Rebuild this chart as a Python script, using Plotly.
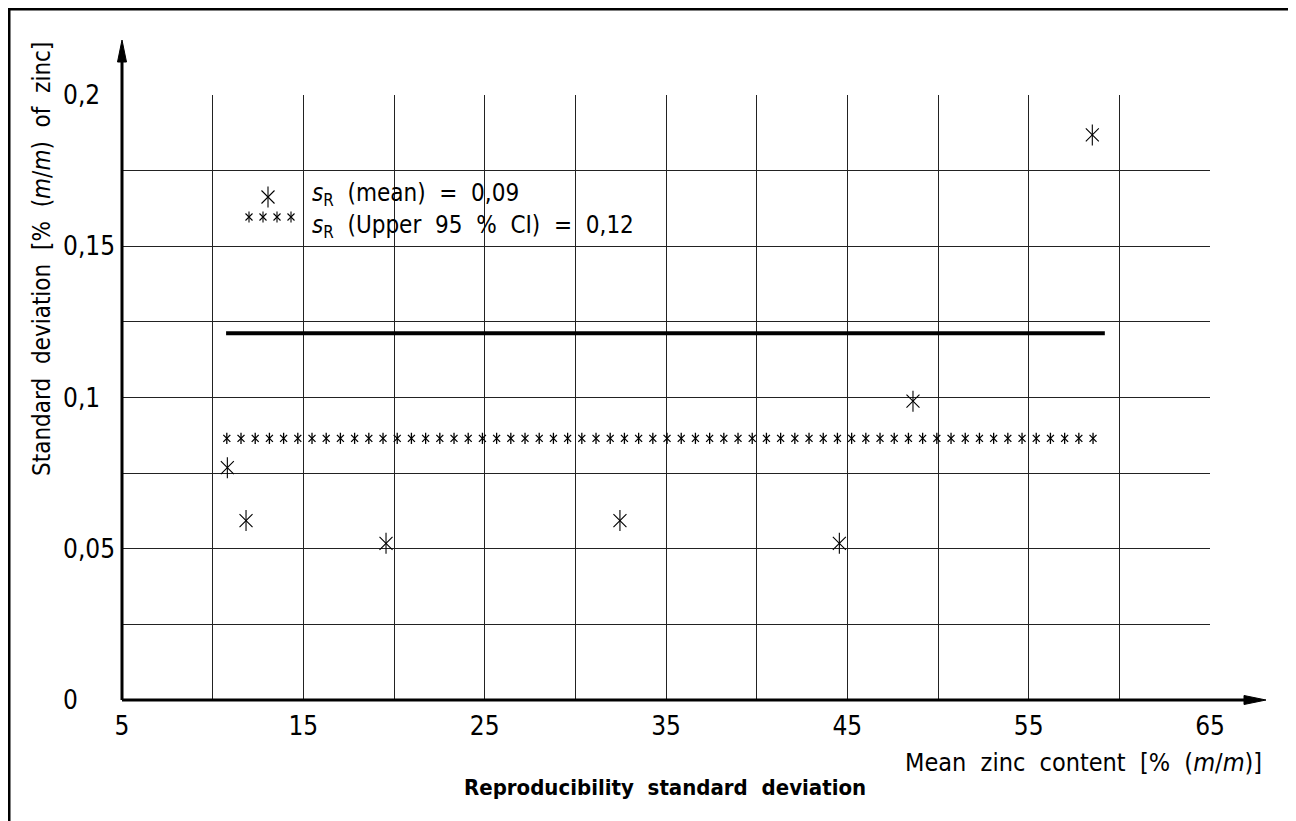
import plotly.graph_objects as go

# ---- data ----
point_x = [10.81, 11.84, 19.56, 32.46, 44.56, 48.62, 58.51]
point_y = [0.0768, 0.0593, 0.0518, 0.0593, 0.0518, 0.0988, 0.1868]

mean_value = 0.0865          # asterisk line
mean_x_start, mean_x_end = 10.78, 58.55
mean_marks = 62              # number of asterisks drawn along the line
upper_value = 0.1212         # solid line
upper_x = [10.74, 59.2]

x_tick_vals = [5, 15, 25, 35, 45, 55, 65]
x_tick_text = ["5", "15", "25", "35", "45", "55", "65"]
y_tick_vals = [0, 0.05, 0.1, 0.15, 0.2]
y_tick_text = ["0", "0,05", "0,1", "0,15", "0,2"]

legend_mean = "<i>s</i><sub>R</sub>  (mean)  =  0,09"
legend_upper = "<i>s</i><sub>R</sub>  (Upper  95  %  CI)  =  0,12"
x_title = "Mean  zinc  content  [%  (<i>m</i>/<i>m</i>)]"
y_title = "Standard  deviation  [%  (<i>m</i>/<i>m</i>)  of  zinc]"
bottom_title = "<b>Reproducibility  standard  deviation</b>"

# ---- layout constants (page has an 8 px body margin) ----
OFF = 8
W, H = 1296, 821
PL, PT, PR, PB = 122, 95, 1210, 700          # plot area in page pixels
L, T = PL - OFF, PT - OFF
R, B = W - (PR - OFF), H - (PB - OFF)
PW, PH = PR - PL, PB - PT
X0, X1, Y0, Y1 = 5, 65, 0, 0.2
FONT = "DejaVu Sans Condensed, DejaVu Sans, sans-serif"


def px(xp):
    return (xp - PL) / PW


def py(yp):
    return (PB - yp) / PH


def dx(xp):
    return X0 + px(xp) * (X1 - X0)


def dy(yp):
    return Y0 + py(yp) * (Y1 - Y0)


fig = go.Figure()

# solid upper line
fig.add_trace(go.Scatter(x=upper_x, y=[upper_value, upper_value], mode="lines",
                         line=dict(color="black", width=4), hoverinfo="skip"))

# asterisk line for the mean
step = (mean_x_end - mean_x_start) / (mean_marks - 1)
mx = [mean_x_start + i * step for i in range(mean_marks)]
my = [mean_value] * mean_marks
for sym, sz in (("line-ns-open", 8), ("x-thin-open", 7)):
    fig.add_trace(go.Scatter(x=mx, y=my, mode="markers",
                             marker=dict(symbol=sym, size=sz, color="black",
                                         line=dict(color="black", width=1.3)),
                             hoverinfo="skip"))

# data points (6-arm asterisks)
for sym, sz in (("line-ns-open", 15), ("x-thin-open", 13)):
    fig.add_trace(go.Scatter(x=point_x, y=point_y, mode="markers",
                             marker=dict(symbol=sym, size=sz, color="black",
                                         line=dict(color="black", width=1.1)),
                             hoverinfo="skip"))

# legend symbols
for sym, sz in (("line-ns-open", 15), ("x-thin-open", 13)):
    fig.add_trace(go.Scatter(x=[dx(268)], y=[dy(197)], mode="markers",
                             marker=dict(symbol=sym, size=sz, color="black",
                                         line=dict(color="black", width=1.1)),
                             hoverinfo="skip"))
lx = [dx(249), dx(263), dx(277), dx(291)]
for sym, sz in (("line-ns-open", 8), ("x-thin-open", 7)):
    fig.add_trace(go.Scatter(x=lx, y=[dy(217)] * 4, mode="markers",
                             marker=dict(symbol=sym, size=sz, color="black",
                                         line=dict(color="black", width=1.1)),
                             hoverinfo="skip"))

ann = []
ann.append(dict(x=px(310), y=py(194), xref="paper", yref="paper", text=legend_mean,
                showarrow=False, xanchor="left", yanchor="middle",
                font=dict(size=24, family=FONT, color="black")))
ann.append(dict(x=px(310), y=py(227), xref="paper", yref="paper", text=legend_upper,
                showarrow=False, xanchor="left", yanchor="middle",
                font=dict(size=24, family=FONT, color="black")))
# y tick labels (left aligned)
for v, t in zip(y_tick_vals, y_tick_text):
    ann.append(dict(x=px(61), y=v, xref="paper", yref="y", text=t, showarrow=False,
                    xanchor="left", yanchor="middle",
                    font=dict(size=26, family=FONT, color="black")))
# axis titles
ann.append(dict(x=px(1264), y=py(762), xref="paper", yref="paper", text=x_title,
                showarrow=False, xanchor="right", yanchor="middle",
                font=dict(size=25, family=FONT, color="black")))
ann.append(dict(x=px(42), y=py(40), xref="paper", yref="paper", text=y_title,
                showarrow=False, xanchor="center", yanchor="top", textangle=-90,
                font=dict(size=24, family=FONT, color="black")))
ann.append(dict(x=px(665), y=py(787), xref="paper", yref="paper", text=bottom_title,
                showarrow=False, xanchor="center", yanchor="middle",
                font=dict(size=22, family=FONT, color="black")))

# axis lines with arrowheads, border
shapes = [
    dict(type="rect", xref="paper", yref="paper",
         x0=px(9), x1=px(1290), y0=py(850), y1=py(9),
         line=dict(color="black", width=3), fillcolor="rgba(0,0,0,0)"),
    dict(type="line", xref="paper", yref="paper", x0=px(PL), x1=px(1250),
         y0=0, y1=0, line=dict(color="black", width=3)),
    dict(type="line", xref="paper", yref="paper", x0=0, x1=0,
         y0=0, y1=py(60), line=dict(color="black", width=3)),
    dict(type="path", xref="paper", yref="paper",
         path=f"M {px(1266)},0 L {px(1244)},{py(PB - 4.5)} L {px(1244)},{py(PB + 4.5)} Z",
         fillcolor="black", line=dict(color="black", width=1)),
    dict(type="path", xref="paper", yref="paper",
         path=f"M 0,{py(40)} L {px(PL - 4.5)},{py(62)} L {px(PL + 4.5)},{py(62)} Z",
         fillcolor="black", line=dict(color="black", width=1)),
]

fig.update_layout(
    width=W, height=H, margin=dict(l=L, r=R, t=T, b=B),
    paper_bgcolor="white", plot_bgcolor="white", showlegend=False,
    annotations=ann, shapes=shapes,
    xaxis=dict(range=[X0, X1], tickvals=x_tick_vals, ticktext=x_tick_text,
               showgrid=True, gridcolor="#222", gridwidth=1,
               minor=dict(dtick=5, tick0=5, showgrid=True, gridcolor="#222", gridwidth=1),
               zeroline=False, showline=False, ticks="", ticklabelstandoff=8,
               tickfont=dict(size=26, family=FONT, color="black"), fixedrange=True),
    yaxis=dict(range=[Y0, Y1], dtick=0.025, tick0=0, showticklabels=False,
               showgrid=True, gridcolor="#222", gridwidth=1,
               zeroline=False, showline=False, ticks="", fixedrange=True),
)
for tr in fig.data:
    tr.cliponaxis = False

fig.write_html("out.html")
